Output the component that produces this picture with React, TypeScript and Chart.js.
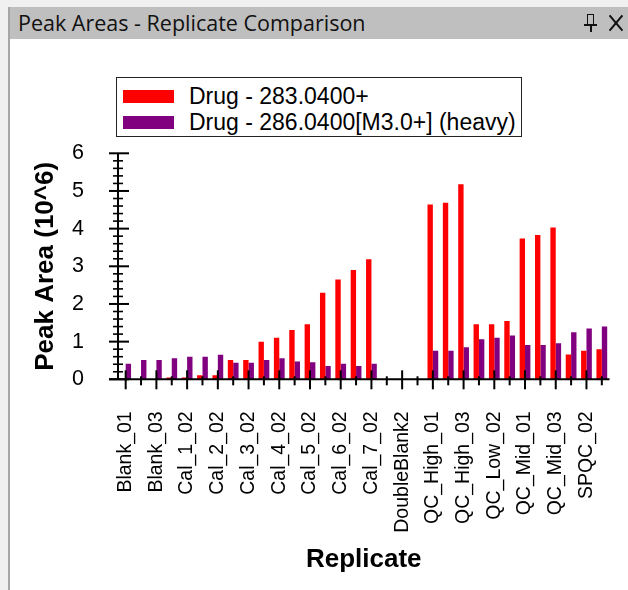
import React, { useEffect, useRef } from 'react';
import { Chart, registerables } from 'chart.js';

Chart.register(...registerables);

const WINDOW_TITLE = 'Peak Areas - Replicate Comparison';

const categories = [
  'Blank_01', 'Blank_02', 'Blank_03',
  'Cal_1_01', 'Cal_1_02', 'Cal_2_01', 'Cal_2_02', 'Cal_3_01', 'Cal_3_02',
  'Cal_4_01', 'Cal_4_02', 'Cal_5_01', 'Cal_5_02', 'Cal_6_01', 'Cal_6_02',
  'Cal_7_01', 'Cal_7_02',
  'DoubleBlank1', 'DoubleBlank2', 'DoubleBlank3',
  'QC_High_01', 'QC_High_02', 'QC_High_03',
  'QC_Low_01', 'QC_Low_02', 'QC_Low_03',
  'QC_Mid_01', 'QC_Mid_02', 'QC_Mid_03',
  'SPQC_01', 'SPQC_02', 'SPQC_03',
];

const lightSeries = [
  0, 0, 0,
  0.05, 0.05, 0.11, 0.11, 0.51, 0.51,
  1.0, 1.1, 1.31, 1.46, 2.3, 2.65,
  2.9, 3.19,
  0, 0, 0,
  4.64, 4.69, 5.18,
  1.46, 1.46, 1.55,
  3.74, 3.83, 4.03,
  0.66, 0.76, 0.8,
];

const heavySeries = [
  0.41, 0.51, 0.51,
  0.56, 0.6, 0.6, 0.65, 0.44, 0.44,
  0.51, 0.56, 0.47, 0.45, 0.35, 0.41,
  0.35, 0.41,
  0, 0, 0,
  0.76, 0.76, 0.85,
  1.06, 1.1, 1.16,
  0.91, 0.91, 0.96,
  1.25, 1.35, 1.4,
];

const seriesNames = ['Drug - 283.0400+', 'Drug - 286.0400[M3.0+] (heavy)'];
const seriesColors = ['#ff0000', '#800080'];
const yTitle = 'Peak Area (10^6)';
const xTitle = 'Replicate';
const yMin = 0;
const yMax = 6;
const yMajorStep = 1;
const yMinorPerMajor = 5;

const FONT = '"Liberation Sans", Arial, Helvetica, sans-serif';

const axisPlugin = {
  id: 'zedAxes',
  afterDatasetsDraw(chart: any) {
    const { ctx, chartArea, scales } = chart;
    const x = scales.x;
    const y = scales.y;
    const x0 = chartArea.left;
    const y0 = y.getPixelForValue(yMin);
    const yTop = y.getPixelForValue(yMax);
    ctx.save();
    ctx.strokeStyle = '#000';
    ctx.lineCap = 'butt';
    const seg = (ax: number, ay: number, bx: number, by: number, w: number) => {
      ctx.lineWidth = w;
      ctx.beginPath();
      ctx.moveTo(ax, ay);
      ctx.lineTo(bx, by);
      ctx.stroke();
    };
    seg(x0, yTop, x0, y0, 2);
    seg(x0 - 9, y0, chartArea.right, y0, 2);
    const nMinor = ((yMax - yMin) / yMajorStep) * yMinorPerMajor;
    for (let i = 0; i <= nMinor; i++) {
      const v = yMin + (i * yMajorStep) / yMinorPerMajor;
      const py = y.getPixelForValue(v);
      if (i % yMinorPerMajor === 0) seg(x0 - 9, py, x0 + 11, py, 2);
      else seg(x0 - 5, py, x0 + 5, py, 1.6);
    }
    for (let i = 0; i < categories.length; i++) {
      const px = x.getPixelForValue(i);
      if (i % 2 === 0) seg(px, y0 - 9, px, y0 + 10, 2);
      else seg(px, y0 - 3, px, y0 + 6, 2);
    }
    ctx.restore();
  },
};

function ChartCanvas() {
  const ref = useRef<HTMLCanvasElement | null>(null);
  useEffect(() => {
    if (!ref.current) return;
    const chart = new Chart(ref.current, {
      type: 'bar',
      data: {
        labels: categories,
        datasets: [
          {
            label: seriesNames[0],
            data: lightSeries,
            backgroundColor: seriesColors[0],
            borderWidth: 0,
            barPercentage: 1,
            categoryPercentage: 0.7,
          },
          {
            label: seriesNames[1],
            data: heavySeries,
            backgroundColor: seriesColors[1],
            borderWidth: 0,
            barPercentage: 1,
            categoryPercentage: 0.7,
          },
        ],
      },
      options: {
        responsive: false,
        animation: false,
        devicePixelRatio: 1,
        layout: { padding: { left: 20, top: 114.3, right: 18.5, bottom: 14.4 } },
        plugins: {
          legend: { display: false },
          tooltip: { enabled: false },
        },
        scales: {
          x: {
            type: 'category',
            grid: { display: false },
            border: { display: false },
            ticks: {
              autoSkip: false,
              maxRotation: 90,
              minRotation: 90,
              padding: 24,
              color: '#000',
              font: { family: FONT, size: 19.5 },
              callback: function (this: any, v: any, i: number) {
                return i % 2 === 0 ? this.getLabelForValue(v) : '';
              },
            },
            title: {
              display: true,
              text: xTitle,
              color: '#000',
              font: { family: FONT, size: 26, weight: 'bold' },
              padding: 0,
            },
            afterFit: (s: any) => {
              s.height = 196.3;
              s.paddingLeft = 0;
              s.paddingRight = 0;
            },
          },
          y: {
            min: yMin,
            max: yMax,
            grid: { display: false },
            border: { display: false },
            ticks: {
              stepSize: yMajorStep,
              padding: 26,
              color: '#000',
              font: { family: FONT, size: 21.5 },
            },
            title: {
              display: true,
              text: yTitle,
              color: '#000',
              font: { family: FONT, size: 26, weight: 'bold' },
              padding: 0,
            },
            afterFit: (s: any) => {
              s.width = 88;
              s.paddingTop = 0;
              s.paddingBottom = 0;
            },
          },
        },
      } as any,
      plugins: [axisPlugin],
    });
    return () => chart.destroy();
  }, []);
  return (
    <canvas
      ref={ref}
      width={618}
      height={551}
      style={{ position: 'absolute', left: 10, top: 39, width: 618, height: 551 }}
    />
  );
}

export default function App() {
  return (
    <div
      style={{
        position: 'fixed',
        left: 0,
        top: 0,
        width: 628,
        height: 590,
        background: '#f0f0f0',
        overflow: 'hidden',
      }}
    >
      <div style={{ position: 'absolute', left: 8, top: 7, width: 2, height: 583, background: '#a6a6a6' }} />
      <div
        style={{
          position: 'absolute',
          left: 10,
          top: 7,
          width: 618,
          height: 32,
          background: '#bfbfbf',
        }}
      >
        <div
          style={{
            position: 'absolute',
            left: 8,
            top: 2,
            fontFamily: '"Open Sans", "Noto Sans", sans-serif',
            fontSize: 21.5,
            lineHeight: '28px',
            color: '#111',
            whiteSpace: 'nowrap',
          }}
        >
          {WINDOW_TITLE}
        </div>
        <div style={{ position: 'absolute', left: 577, top: 7, width: 5, height: 9, border: '1.5px solid #111', borderBottom: 'none' }} />
        <div style={{ position: 'absolute', left: 574, top: 17, width: 13, height: 2, background: '#111' }} />
        <div style={{ position: 'absolute', left: 579.5, top: 19, width: 2, height: 6, background: '#111' }} />
        <div style={{ position: 'absolute', left: 605, top: 6, width: 2, height: 20, background: '#111', transform: 'rotate(40deg)' }} />
        <div style={{ position: 'absolute', left: 605, top: 6, width: 2, height: 20, background: '#111', transform: 'rotate(-40deg)' }} />
      </div>
      <div style={{ position: 'absolute', left: 10, top: 39, width: 618, height: 551, background: '#ffffff' }} />
      <ChartCanvas />
      <div
        style={{
          position: 'absolute',
          left: 116,
          top: 77,
          width: 406,
          height: 60,
          border: '1.5px solid #222',
          background: '#fff',
          boxSizing: 'border-box',
        }}
      >
        {seriesNames.map((name, i) => (
          <div key={name} style={{ position: 'absolute', left: 6, top: 11 + i * 26, height: 14, display: 'flex', alignItems: 'center' }}>
            <div style={{ width: 51, height: 13, background: seriesColors[i] }} />
            <div
              style={{
                marginLeft: 15,
                fontFamily: FONT,
                fontSize: 23,
                lineHeight: '14px',
                color: '#000',
                whiteSpace: 'nowrap',
              }}
            >
              {name}
            </div>
          </div>
        ))}
      </div>
    </div>
  );
}
